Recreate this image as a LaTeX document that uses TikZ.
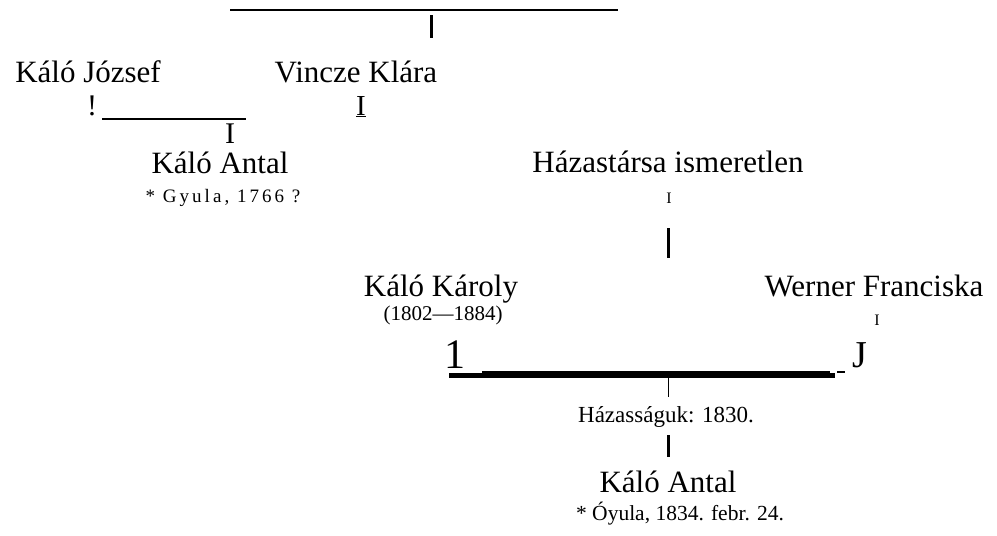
\documentclass[tikz,border=0pt]{standalone}
\usepackage{fontspec}
\setmainfont{Liberation Serif}
\newfontfamily\spacedfont[LetterSpace=16]{Liberation Serif}
\usepackage{tikz}
\usetikzlibrary{positioning}
\tikzset{
    person/.style={inner sep=0pt, anchor=base, font=\fontsize{31}{31}\selectfont},
    note/.style={inner sep=0pt, anchor=base, font=\fontsize{21}{21}\selectfont},
    glyph/.style={inner sep=0pt, anchor=base},
    rule/.style={line width=1.6pt},
    heavyrule/.style={line width=4.5pt},
    heavybar/.style={line width=3pt}
}

\begin{document}
\begin{tikzpicture}[x=1pt, y=-1pt]
    \useasboundingbox (0,0) rectangle (997,536);

    % Top line
    \coordinate (topL) at (230,10);
    \coordinate (topR) at (618,10);
    \draw[rule] (topL) -- (topR);
    \coordinate (topBarA) at (431,15);
    \coordinate (topBarB) at (431,38);
    \draw[heavybar] (topBarA) -- (topBarB);

    % First generation
    \node[person] (jozsef) at (88,82) {Káló József};
    \node[person] (klara) at (356,82) {Vincze Klára};
    \node[glyph, font=\fontsize{30}{30}\selectfont] (bang) at (92,115) {!};
    \coordinate (jozsefL) at (102,119);
    \coordinate (jozsefR) at (246,119);
    \draw[rule] (jozsefL) -- (jozsefR);
    \node[glyph, font=\fontsize{30}{30}\selectfont] (jozsefI) at (230,143) {I};
    \node[glyph, font=\fontsize{29}{29}\selectfont] (klaraI) at (361,115) {\underline{I}};
    \node[person] (antal1) at (220,173) {Káló Antal};
    \node[note, font=\spacedfont\fontsize{19}{19}\selectfont] (antal1born) at (223,202) {* Gyula, 1766 ?};

    % Unknown spouse
    \node[person] (ismeretlen) at (668,172) {Házastársa ismeretlen};
    \node[glyph, font=\fontsize{16}{16}\selectfont] (ismI) at (669,203) {I};
    \coordinate (ismBarA) at (668,228);
    \coordinate (ismBarB) at (668,258);
    \draw[heavybar] (ismBarA) -- (ismBarB);

    % Second generation
    \node[person] (karoly) at (441,296) {Káló Károly};
    \node[note] (karolyDates) at (443,320) {(1802---1884)};
    \node[person] (werner) at (874,296) {Werner Franciska};
    \node[glyph, font=\fontsize{16}{16}\selectfont] (wernerI) at (877,325) {I};
    \node[glyph, font=\fontsize{42}{42}\selectfont] (one) at (455,368) {1};
    \node[glyph, font=\fontsize{38}{38}\selectfont] (jay) at (860,367) {J};

    % Marriage line
    \coordinate (marL) at (449,375.5);
    \coordinate (marR) at (835,375.5);
    \draw[heavyrule] (marL) -- (marR);
    \coordinate (thinL) at (482,372);
    \coordinate (thinR) at (830,372);
    \draw[rule] (thinL) -- (thinR);
    \coordinate (dashL) at (837,372);
    \coordinate (dashR) at (845,372);
    \draw[rule] (dashL) -- (dashR);
    \coordinate (tickA) at (668,378);
    \coordinate (tickB) at (668,397);
    \draw[line width=1pt] (tickA) -- (tickB);
    \node[note, font=\fontsize{23}{23}\selectfont] (hazassag) at (666,422) {Házasságuk: 1830.};
    \coordinate (hazBarA) at (668,435);
    \coordinate (hazBarB) at (668,457);
    \draw[heavybar] (hazBarA) -- (hazBarB);

    % Child
    \node[person] (antal2) at (668,492) {Káló Antal};
    \node[note, font=\fontsize{21.5}{21.5}\selectfont] (antal2born) at (680,520) {* Óyula, 1834. febr. 24.};
\end{tikzpicture}
\end{document}
